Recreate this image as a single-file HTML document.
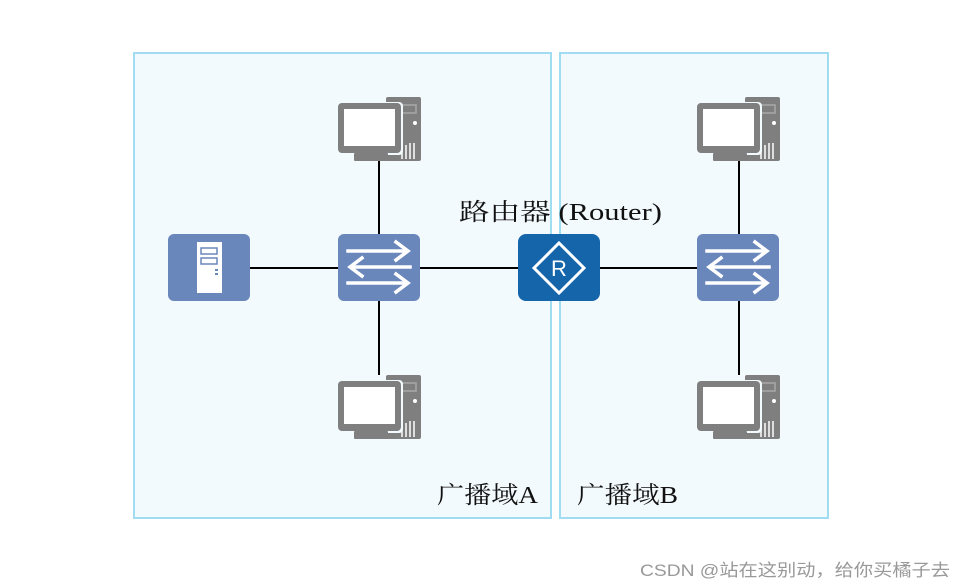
<!DOCTYPE html>
<html><head><meta charset="utf-8"><style>
html,body{margin:0;padding:0;background:#fff;width:967px;height:587px;overflow:hidden}
svg{display:block}
</style></head><body>
<svg width="967" height="587" viewBox="0 0 967 587" xmlns="http://www.w3.org/2000/svg">
<defs>
<g id="pc">
  <rect x="48" y="0" width="35" height="64" rx="2" fill="#7f7f7f"/>
  <rect x="52" y="8" width="26" height="8" fill="none" stroke="#a8a8a8" stroke-width="1.5"/>
  <circle cx="77" cy="26" r="2" fill="#fff"/>
  <g stroke="#fff" stroke-width="1.5"><line x1="64" y1="62" x2="64" y2="50"/><line x1="68" y1="62" x2="68" y2="48"/><line x1="72" y1="62" x2="72" y2="46"/><line x1="76" y1="62" x2="76" y2="46"/></g>
  <rect x="-1" y="5" width="66" height="53" rx="4" fill="#f3fafd"/>
  <rect x="0" y="6" width="63" height="50" rx="4" fill="#7f7f7f"/>
  <rect x="6" y="12" width="51" height="37" fill="#fff"/>
  <rect x="16" y="56" width="34" height="8" rx="1" fill="#7f7f7f"/>
</g>
<g id="sw">
  <rect x="0" y="0" width="82" height="67" rx="6" fill="#6a87bb"/>
  <g stroke="#fff" stroke-width="3.5" fill="none" stroke-linecap="square">
    <line x1="10" y1="17" x2="68" y2="17"/><polyline points="58,8 70,17 58,26"/>
    <line x1="14" y1="33" x2="72" y2="33"/><polyline points="24,24 12,33 24,42"/>
    <line x1="10" y1="49" x2="68" y2="49"/><polyline points="58,40 70,49 58,58"/>
  </g>
</g>
</defs>
<rect x="134" y="53" width="417" height="465" fill="#f3fafd" stroke="#a0dcf2" stroke-width="2"/>
<rect x="560" y="53" width="268" height="465" fill="#f3fafd" stroke="#a0dcf2" stroke-width="2"/>
<g stroke="#000" stroke-width="2">
  <line x1="250" y1="268" x2="697" y2="268"/>
  <line x1="379" y1="160" x2="379" y2="375"/>
  <line x1="739" y1="160" x2="739" y2="375"/>
</g>
<use href="#pc" x="338" y="97"/>
<use href="#pc" x="338" y="375"/>
<use href="#pc" x="697" y="97"/>
<use href="#pc" x="697" y="375"/>
<use href="#sw" x="338" y="234"/>
<use href="#sw" x="697" y="234"/>
<rect x="168" y="234" width="82" height="67" rx="6" fill="#6a87bb"/>
<rect x="197" y="242" width="25" height="51" fill="#fff"/>
<rect x="201" y="248" width="16" height="6" fill="none" stroke="#6a87bb" stroke-width="1.5"/>
<rect x="201" y="258" width="16" height="6" fill="none" stroke="#6a87bb" stroke-width="1.5"/>
<rect x="215" y="269" width="3" height="2" fill="#6a87bb"/><rect x="215" y="273" width="3" height="2" fill="#6a87bb"/>
<rect x="518" y="234" width="82" height="67" rx="8" fill="#1565ab"/>
<polygon points="559,243 584,268 559,293 534,268" fill="none" stroke="#fff" stroke-width="3"/>
<text x="559" y="276" font-family="Liberation Sans, sans-serif" font-size="22" fill="#fff" text-anchor="middle">R</text>
<text x="459" y="220" font-family="Liberation Serif, 'Noto Serif CJK SC', serif" font-size="24" fill="#111" textLength="203" lengthAdjust="spacingAndGlyphs">路由器 (Router)</text>
<text x="437" y="503" font-family="Liberation Serif, 'Noto Serif CJK SC', serif" font-size="24" fill="#111" textLength="101" lengthAdjust="spacingAndGlyphs">广播域A</text>
<text x="577" y="503" font-family="Liberation Serif, 'Noto Serif CJK SC', serif" font-size="24" fill="#111" textLength="101" lengthAdjust="spacingAndGlyphs">广播域B</text>
<text x="640" y="576" font-family="Liberation Sans, 'Noto Sans CJK SC', sans-serif" font-size="17" fill="#999" textLength="310" lengthAdjust="spacingAndGlyphs">CSDN @站在这别动，给你买橘子去</text>
</svg>
</body></html>
